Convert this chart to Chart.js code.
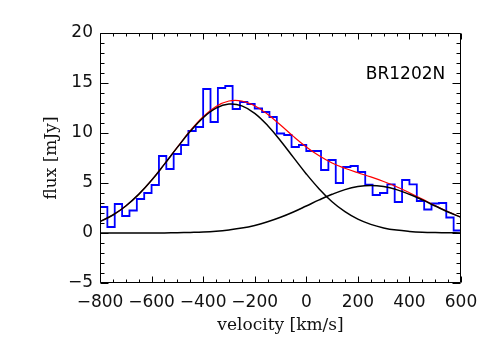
<!DOCTYPE html>
<html>
<head>
<meta charset="utf-8">
<script src="https://cdn.jsdelivr.net/npm/chart.js@4.4.1/dist/chart.umd.min.js"></script>
<style>
  html, body { margin: 0; padding: 0; background: #ffffff; }
  #wrap { width: 491px; height: 343px; }
</style>
</head>
<body>
<div id="wrap"><canvas id="c" width="491" height="343"></canvas></div>
<script>
// ---------------- data ----------------
// Histogram (observed spectrum): 49 channels spanning -800 .. 600 km/s
const channelStart = -800;
const channelEnd = 600;
const fluxChannels = [
  2.6, 0.6, 2.9, 1.7, 2.25, 3.4, 4.0, 4.8, 7.7, 6.4,
  7.9, 8.8, 10.2, 10.6, 14.4, 11.1, 14.5, 14.7, 12.4, 13.1,
  12.9, 12.45, 12.1, 11.6, 9.95, 9.8, 8.6, 8.8, 8.2, 8.2,
  6.3, 7.3, 5.0, 6.6, 6.7, 6.1, 4.84, 3.8, 4.0, 4.87,
  3.1, 5.3, 4.87, 3.2, 2.35, 2.95, 3.0, 1.55, 0.25
];

// Model curves at 50 km/s steps
const modelVelocity = [
  -800, -750, -700, -650, -600, -550, -500, -450, -400, -350,
  -300, -250, -200, -150, -100, -50, 0, 50, 100, 150,
  200, 250, 300, 350, 400, 450, 500, 550, 600
];
const blueComponent = [
  1.15, 1.80, 2.70, 3.86, 5.27, 6.89, 8.56, 10.17, 11.53, 12.48,
  12.89, 12.71, 11.97, 10.75, 9.23, 7.56, 5.91, 4.41, 3.13, 2.13,
  1.38, 0.86, 0.51, 0.29, 0.16, 0.08, 0.04, 0.02, 0.01
];
const redComponent = [
  0.0, 0.0, 0.0, 0.0, 0.01, 0.01, 0.03, 0.06, 0.10, 0.18,
  0.31, 0.49, 0.76, 1.12, 1.57, 2.10, 2.70, 3.31, 3.87, 4.34,
  4.64, 4.75, 4.64, 4.34, 3.87, 3.31, 2.70, 2.10, 1.57
];
const totalFit = [
  1.15, 1.80, 2.70, 3.86, 5.28, 6.90, 8.59, 10.23, 11.63, 12.66,
  13.20, 13.20, 12.73, 11.87, 10.80, 9.66, 8.61, 7.72, 7.00, 6.47,
  6.02, 5.61, 5.15, 4.63, 4.03, 3.39, 2.74, 2.12, 1.58
];

const xTickStep = 200;
const yTickStep = 5;
const xRange = [-800, 600];
const yRange = [-5, 20];
const sourceName = 'BR1202N';
const xTitle = 'velocity [km/s]';
const yTitle = 'flux [mJy]';

// ---------------- build datasets ----------------
const chWidth = (channelEnd - channelStart) / fluxChannels.length;
const histPoints = fluxChannels.map((v, i) => ({ x: channelStart + i * chWidth, y: v }));
histPoints.push({ x: channelEnd, y: fluxChannels[fluxChannels.length - 1] });

const toXY = arr => arr.map((v, i) => ({ x: modelVelocity[i], y: v }));

const fmt = v => (v < 0 ? '\u2212' + Math.abs(v) : String(v));

const framePlugin = {
  id: 'frame',
  afterDatasetsDraw(chart) {
    const { ctx, chartArea } = chart;
    const { left, right, top, bottom } = chartArea;
    const xs = chart.scales.x, ys = chart.scales.y;
    ctx.save();
    ctx.strokeStyle = '#000';
    ctx.lineWidth = 1;
    const L = Math.round(left) + 0.5, R = Math.round(right) - 0.5;
    const T = Math.round(top) + 0.5, B = Math.round(bottom) - 0.5;
    ctx.beginPath();
    ctx.rect(L, T, R - L, B - T);
    // x ticks (bottom & top, inward)
    for (let v = xRange[0]; v <= xRange[1] + 0.01; v += xTickStep / 4) {
      const px = Math.round(xs.getPixelForValue(v)) + 0.5;
      const len = (Math.abs(v % xTickStep) < 1e-6) ? 6 : 3;
      ctx.moveTo(px, B); ctx.lineTo(px, B - len);
      ctx.moveTo(px, T); ctx.lineTo(px, T + len);
    }
    // y ticks (left & right, inward)
    for (let v = yRange[0]; v <= yRange[1] + 0.01; v += yTickStep / 5) {
      const py = Math.round(ys.getPixelForValue(v)) + 0.5;
      const len = (Math.abs(v % yTickStep) < 1e-6) ? 8 : 4;
      ctx.moveTo(L, py); ctx.lineTo(L + len, py);
      ctx.moveTo(R, py); ctx.lineTo(R - len, py);
    }
    ctx.stroke();
    // source label
    ctx.fillStyle = '#000';
    ctx.font = '17px "DejaVu Sans"';
    ctx.textAlign = 'center';
    ctx.textBaseline = 'middle';
    ctx.fillText(sourceName, xs.getPixelForValue(385), ys.getPixelForValue(15.8));
    ctx.restore();
  }
};

new Chart(document.getElementById('c'), {
  type: 'line',
  data: {
    datasets: [
      { label: 'component 1', data: toXY(blueComponent), borderColor: '#000000', borderWidth: 1.5,
        pointRadius: 0, tension: 0.4, fill: false, order: 0 },
      { label: 'component 2', data: toXY(redComponent), borderColor: '#000000', borderWidth: 1.5,
        pointRadius: 0, tension: 0.4, fill: false, order: 0 },
      { label: 'total fit', data: toXY(totalFit), borderColor: '#ff0000', borderWidth: 1.2,
        pointRadius: 0, tension: 0.4, fill: false, order: 1 },
      { label: 'spectrum', data: histPoints, borderColor: '#0000ff', borderWidth: 1.8,
        pointRadius: 0, stepped: 'before', fill: false, order: 2 }
    ]
  },
  options: {
    responsive: false,
    animation: false,
    devicePixelRatio: 1,
    layout: { padding: { left: 0, top: 33, right: 30, bottom: 0 } },
    plugins: { legend: { display: false }, tooltip: { enabled: false } },
    scales: {
      x: {
        type: 'linear', min: xRange[0], max: xRange[1],
        grid: { display: false, drawTicks: false }, border: { display: false },
        ticks: { stepSize: xTickStep, autoSkip: false, maxRotation: 0, minRotation: 0,
                 padding: 9, color: '#111', font: { family: 'DejaVu Sans', size: 17 },
                 callback: v => fmt(v) },
        title: { display: true, text: xTitle, color: '#111',
                 font: { family: 'DejaVu Serif', size: 17 }, padding: { top: 0, bottom: 7 } },
        afterFit: s => { s.height = 60; }
      },
      y: {
        type: 'linear', min: yRange[0], max: yRange[1],
        grid: { display: false, drawTicks: false }, border: { display: false },
        ticks: { stepSize: yTickStep, padding: 7, color: '#111',
                 font: { family: 'DejaVu Sans', size: 17 }, callback: v => fmt(v) },
        title: { display: true, text: yTitle, color: '#111',
                 font: { family: 'DejaVu Serif', size: 17 }, padding: { top: 41, bottom: 0 } },
        afterFit: s => { s.width = 100; }
      }
    }
  },
  plugins: [framePlugin]
});
</script>
</body>
</html>
